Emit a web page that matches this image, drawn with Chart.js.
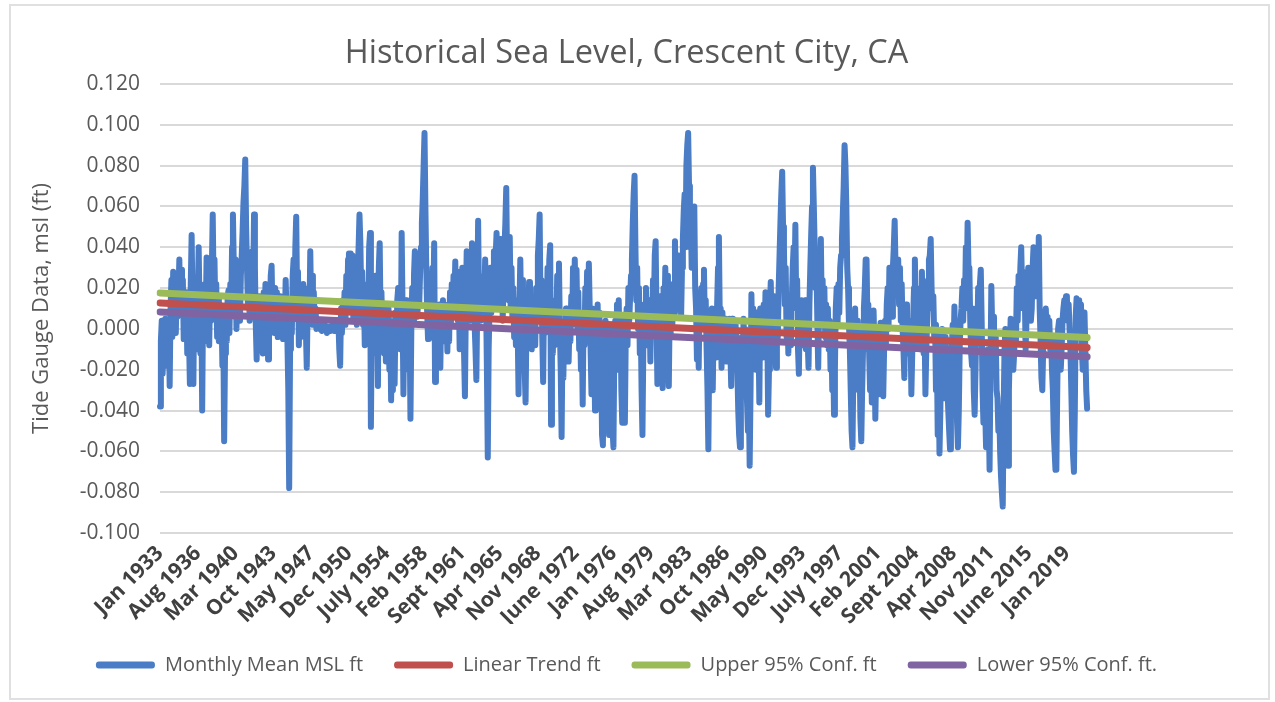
<!DOCTYPE html>
<html>
<head>
<meta charset="utf-8">
<title>Historical Sea Level, Crescent City, CA</title>
<script src="https://cdn.jsdelivr.net/npm/chart.js@4.4.1/dist/chart.umd.min.js"></script>
<style>
  html, body { margin: 0; padding: 0; background: #fff; }
  #frame { position: absolute; left: 9px; top: 4px; width: 1261px; height: 696px; border: 2px solid #e0e0e0; box-sizing: border-box; }
  #wrap { position: absolute; left: 0; top: 0; width: 1275px; height: 702px; }
</style>
</head>
<body>
<div id="frame"></div>
<div id="wrap"><canvas id="seaLevelChart" width="1275" height="702"></canvas></div>
<script>
const startYear = 1933;
const monthNames = ['Jan', 'Feb', 'Mar', 'Apr', 'May', 'June', 'July', 'Aug', 'Sept', 'Oct', 'Nov', 'Dec'];
const categoryCount = 1222; // sheet rows on the axis, blank ones after the last reading
const labelStep = 43;       // one axis label every 43 months

// monthly mean sea level, ft, one row per year starting Jan 1933
const monthlyMeanMSL = [
  -0.038, -0.006, 0.004, -0.022, 0.002, -0.012, 0.005, -0.018, 0.004, -0.010, 0.003, -0.028,
  0.010, 0.024, -0.004, 0.028, 0.004, 0.018, -0.002, 0.020, 0.006, 0.016, 0.034, 0.008,
  0.029, 0.010, 0.024, -0.005, 0.016, 0.002, 0.018, -0.012, 0.012, -0.004, -0.027, 0.022,
  0.046, 0.012, -0.027, 0.018, 0.002, 0.020, -0.010, 0.016, 0.040, 0.010, -0.012, 0.014,
  -0.040, 0.012, -0.006, 0.022, 0.004, 0.035, 0.012, 0.024, -0.008, 0.018, 0.004, 0.030,
  0.056, 0.020, 0.034, 0.008, 0.022, -0.004, 0.016, -0.006, 0.012, -0.002, 0.010, -0.018,
  0.004, -0.055, -0.012, 0.010, -0.006, 0.016, 0.019, -0.002, 0.022, 0.008, 0.040, 0.056,
  0.030, 0.006, 0.034, 0.000, 0.020, 0.008, 0.030, 0.004, 0.026, 0.036, 0.048, 0.062,
  0.070, 0.083, 0.050, 0.030, 0.012, 0.028, 0.004, 0.030, 0.010, 0.038, 0.020, 0.056,
  0.030, 0.002, -0.015, 0.012, -0.004, 0.016, -0.008, 0.015, 0.000, -0.012, 0.018, 0.004,
  // 1943
  0.022, -0.006, 0.012, -0.015, 0.016, 0.002, 0.026, 0.031, 0.006, 0.020, -0.002, 0.020,
  0.004, 0.018, -0.004, 0.014, 0.000, 0.016, -0.002, 0.010, -0.005, 0.014, 0.002, 0.024,
  0.008, -0.006, -0.030, -0.078, -0.010, 0.012, -0.002, 0.026, 0.034, 0.008, 0.040, 0.055,
  0.016, 0.028, -0.008, 0.014, 0.000, 0.020, 0.002, 0.022, -0.004, 0.012, 0.000, -0.019,
  0.010, 0.020, 0.004, 0.038, 0.010, 0.026, 0.002, 0.018, 0.004, 0.010, 0.000, 0.004,
  0.001, 0.000, 0.002, 0.001, -0.001, 0.000, 0.002, 0.003, 0.001, 0.000, -0.002, 0.000,
  0.001, 0.000, -0.001, 0.001, 0.002, 0.000, -0.001, 0.000, 0.001, 0.000, 0.002, 0.004,
  -0.010, -0.018, 0.010, -0.002, 0.014, 0.004, 0.018, 0.002, 0.026, 0.010, 0.034, 0.037,
  0.012, 0.037, 0.016, 0.036, 0.004, 0.028, 0.008, 0.022, 0.002, 0.030, 0.040, 0.056,
  0.042, 0.016, 0.028, 0.002, 0.020, -0.008, 0.014, -0.002, 0.022, 0.006, 0.040, 0.047,
  // 1953
  -0.048, 0.002, -0.012, 0.016, -0.006, 0.026, 0.004, 0.014, -0.028, 0.030, 0.042, 0.004,
  0.018, -0.004, 0.012, -0.012, 0.008, -0.016, 0.006, -0.010, 0.010, -0.020, 0.004, -0.035,
  -0.004, -0.030, 0.002, -0.027, 0.008, -0.010, 0.014, 0.020, -0.004, 0.012, -0.010, 0.047,
  0.010, -0.032, 0.006, -0.010, 0.014, -0.012, 0.008, -0.020, 0.004, -0.044, 0.000, 0.020,
  0.004, 0.026, 0.038, 0.010, 0.030, 0.006, 0.024, 0.012, 0.028, 0.040, 0.052, 0.064,
  0.080, 0.096, 0.060, 0.030, 0.008, -0.005, 0.020, 0.004, 0.024, 0.002, 0.030, 0.012,
  0.042, -0.026, 0.012, -0.004, 0.010, -0.008, 0.012, -0.019, 0.010, -0.004, 0.014, -0.006,
  0.008, -0.004, 0.010, -0.011, 0.012, -0.006, 0.018, 0.002, 0.022, 0.008, 0.026, 0.012,
  0.033, 0.008, 0.028, 0.004, 0.018, -0.010, 0.016, 0.002, 0.030, 0.006, -0.012, -0.033,
  0.010, 0.038, 0.012, 0.030, 0.004, 0.026, 0.036, 0.042, 0.010, 0.020, 0.002, -0.010,
  // 1963
  -0.025, 0.012, 0.053, 0.014, 0.026, 0.004, 0.020, 0.006, 0.026, 0.010, 0.034, 0.016,
  -0.020, -0.063, -0.010, 0.010, 0.030, 0.008, 0.030, 0.012, 0.038, 0.014, 0.036, 0.047,
  0.020, 0.040, 0.012, 0.044, 0.010, 0.032, 0.004, 0.028, 0.040, 0.052, 0.069, 0.030,
  0.040, 0.014, 0.045, 0.010, 0.030, 0.006, 0.020, -0.004, 0.012, -0.008, 0.014, 0.000,
  -0.032, 0.010, 0.034, 0.006, 0.024, -0.004, 0.008, -0.020, -0.036, 0.002, 0.018, 0.004,
  0.023, 0.000, 0.016, -0.010, 0.012, -0.004, 0.014, -0.008, 0.020, 0.004, 0.036, 0.044,
  0.056, 0.010, 0.024, -0.004, -0.026, 0.014, -0.002, 0.020, 0.004, 0.030, 0.008, 0.034,
  0.041, -0.047, 0.004, -0.012, 0.010, -0.008, 0.014, 0.002, 0.026, 0.004, 0.032, 0.000,
  -0.020, -0.053, -0.006, -0.024, 0.002, -0.012, 0.010, -0.016, 0.000, -0.016, 0.004, -0.006,
  0.016, 0.002, 0.030, 0.008, 0.034, 0.004, 0.029, 0.000, 0.018, -0.010, 0.004, -0.020,
  // 1973
  -0.002, -0.037, 0.006, -0.008, 0.020, 0.002, 0.028, 0.004, 0.032, 0.010, -0.010, -0.032,
  0.010, -0.018, 0.002, -0.040, 0.004, -0.012, 0.012, -0.014, 0.008, -0.024, -0.006, -0.052,
  -0.057, -0.010, -0.030, 0.004, -0.020, -0.040, 0.000, -0.052, -0.004, -0.016, 0.002, -0.050,
  -0.058, -0.010, 0.004, -0.020, 0.012, -0.006, 0.014, -0.014, 0.006, -0.030, -0.046, -0.008,
  -0.036, -0.046, -0.004, 0.010, -0.008, 0.020, 0.004, 0.016, 0.026, 0.034, 0.052, 0.066,
  0.075, 0.040, 0.014, 0.030, 0.000, 0.020, -0.012, 0.006, -0.030, -0.052, -0.008, 0.012,
  -0.006, 0.020, -0.008, 0.012, -0.004, 0.014, -0.016, 0.010, 0.000, 0.024, 0.010, 0.036,
  0.043, 0.006, -0.027, 0.012, -0.004, 0.016, -0.006, 0.010, -0.029, 0.020, 0.004, 0.030,
  0.006, 0.026, -0.010, -0.028, 0.010, -0.004, 0.016, 0.002, 0.022, 0.008, 0.043, 0.012,
  0.030, 0.012, 0.036, 0.010, 0.028, 0.006, 0.030, 0.044, 0.058, 0.066, 0.040, 0.080,
  // 1983
  0.090, 0.096, 0.070, 0.040, 0.060, 0.030, 0.060, 0.040, 0.060, 0.020, 0.010, -0.015,
  0.006, -0.019, 0.016, 0.000, 0.020, 0.004, 0.022, 0.029, 0.002, 0.014, -0.010, -0.030,
  -0.059, -0.012, 0.004, -0.010, 0.010, -0.030, 0.002, -0.012, 0.004, -0.014, 0.012, 0.030,
  0.045, 0.004, 0.010, -0.019, 0.008, -0.008, 0.004, -0.012, 0.005, -0.016, 0.004, -0.006,
  0.005, -0.010, -0.028, 0.005, -0.008, 0.004, -0.014, 0.002, -0.010, -0.020, -0.040, -0.052,
  -0.058, -0.020, -0.004, -0.030, 0.005, -0.012, 0.000, -0.024, -0.036, -0.050, -0.030, -0.067,
  -0.030, 0.017, -0.010, 0.010, -0.012, 0.004, -0.020, 0.008, -0.016, 0.002, -0.036, 0.010,
  -0.010, 0.004, -0.014, 0.012, -0.004, 0.018, -0.010, 0.002, -0.042, -0.020, 0.010, 0.023,
  0.000, 0.014, -0.008, 0.016, -0.006, -0.019, 0.006, -0.004, 0.020, 0.036, 0.052, 0.066,
  0.077, 0.050, 0.040, 0.012, 0.030, -0.004, 0.010, -0.012, 0.006, -0.008, 0.010, 0.014,
  // 1993
  0.030, 0.040, 0.020, 0.051, 0.010, 0.024, -0.010, -0.022, 0.010, -0.006, 0.014, -0.008,
  0.012, -0.004, 0.014, -0.010, 0.008, -0.006, -0.019, 0.012, 0.030, 0.046, 0.060, 0.079,
  0.060, 0.040, 0.020, 0.030, 0.004, -0.019, 0.010, 0.020, 0.044, 0.010, 0.024, 0.002,
  0.020, -0.004, 0.012, -0.008, 0.010, -0.010, 0.004, -0.020, -0.002, -0.030, -0.010, -0.042,
  -0.020, 0.010, 0.020, 0.002, 0.022, 0.008, 0.030, 0.036, 0.044, 0.056, 0.070, 0.090,
  0.080, 0.060, 0.030, 0.020, 0.002, -0.010, -0.030, -0.050, -0.058, -0.020, 0.000, 0.010,
  -0.010, -0.020, 0.004, -0.030, -0.012, -0.044, -0.055, -0.030, -0.010, 0.010, 0.020, 0.034,
  0.034, 0.004, 0.012, -0.012, -0.030, -0.006, -0.036, -0.020, 0.009, -0.010, -0.044, -0.020,
  0.000, -0.016, -0.032, -0.004, 0.003, -0.018, -0.006, -0.033, -0.010, 0.004, -0.008, 0.012,
  0.020, 0.000, 0.030, 0.010, 0.024, 0.006, 0.030, 0.040, 0.053, 0.030, 0.034, 0.020,
  // 2003
  0.034, 0.012, 0.030, 0.004, 0.022, 0.000, -0.010, -0.024, 0.004, 0.012, -0.006, -0.012,
  0.004, -0.010, 0.002, -0.032, -0.012, 0.004, 0.020, 0.034, 0.012, 0.020, -0.008, 0.010,
  0.014, -0.010, 0.020, 0.028, 0.004, -0.012, 0.000, -0.032, -0.010, 0.004, 0.024, 0.034,
  0.036, 0.044, 0.020, 0.010, 0.016, -0.004, 0.002, -0.030, -0.010, -0.052, -0.020, -0.061,
  -0.040, -0.010, 0.000, -0.012, -0.020, -0.034, -0.004, -0.020, -0.028, -0.040, -0.050, -0.059,
  -0.030, -0.010, 0.002, -0.014, 0.011, -0.010, -0.030, -0.046, -0.058, -0.040, -0.010, 0.004,
  0.010, 0.020, 0.004, 0.024, 0.010, 0.040, 0.020, 0.052, 0.030, 0.030, 0.004, -0.012,
  -0.018, 0.010, -0.030, -0.042, -0.020, 0.004, -0.006, 0.020, 0.000, 0.022, 0.029, 0.004,
  -0.030, -0.046, -0.020, -0.040, -0.058, -0.030, -0.010, -0.040, -0.069, -0.020, 0.021, 0.000,
  0.006, -0.010, -0.020, -0.004, -0.030, -0.034, -0.050, -0.040, -0.060, -0.072, -0.080, -0.087,
  // 2013
  -0.040, -0.010, 0.000, -0.030, -0.050, -0.067, -0.030, -0.010, 0.005, -0.010, 0.004, -0.020,
  -0.012, 0.002, -0.006, 0.020, 0.004, 0.026, 0.010, 0.030, 0.040, 0.020, 0.028, 0.010,
  0.020, -0.010, 0.004, 0.014, 0.030, 0.012, 0.028, 0.004, 0.010, 0.030, 0.040, 0.020,
  0.034, 0.016, 0.038, 0.020, 0.045, 0.010, -0.005, -0.024, -0.030, -0.010, 0.000, 0.006,
  0.010, -0.004, 0.006, -0.008, 0.004, -0.010, -0.004, -0.020, -0.030, -0.050, -0.060, -0.069,
  -0.069, -0.030, 0.000, 0.004, -0.010, -0.020, -0.010, 0.004, 0.010, 0.014, 0.012, 0.016,
  0.015, 0.004, 0.012, 0.000, -0.010, -0.030, -0.050, -0.062, -0.070, -0.040, 0.006, 0.015,
  0.012, 0.000, 0.014, -0.004, 0.012, -0.010, -0.020, -0.006, 0.008, -0.010, -0.030, -0.039
];

// straight lines: value at the first and at the last month
const linearTrend = [0.0127, -0.0091];
const upperConf = [0.0176, -0.0042];
const lowerConf = [0.0083, -0.0137];

const colors = {
  msl: '#4a7dc6',
  trend: '#c0504d',
  upper: '#9bbb59',
  lower: '#8064a2'
};

const labels = [];
for (let i = 0; i < categoryCount; i++) {
  labels.push(i < monthlyMeanMSL.length ? monthNames[i % 12] + ' ' + (startYear + Math.floor(i / 12)) : '');
}

function endpointSeries(ends) {
  const s = new Array(monthlyMeanMSL.length).fill(null);
  s[0] = ends[0];
  s[s.length - 1] = ends[1];
  return s;
}

function lineSet(label, data, color, width, order) {
  return {
    label: label,
    data: data,
    borderColor: color,
    backgroundColor: color,
    borderWidth: width,
    borderCapStyle: 'round',
    borderJoinStyle: 'round',
    pointRadius: 0,
    pointHoverRadius: 0,
    tension: 0,
    spanGaps: true,
    order: order
  };
}

const textGrey = '#595959';

new Chart(document.getElementById('seaLevelChart'), {
  type: 'line',
  data: {
    labels: labels,
    datasets: [
      lineSet('Monthly Mean MSL ft', monthlyMeanMSL, colors.msl, 6, 4),
      lineSet('Linear Trend ft', endpointSeries(linearTrend), colors.trend, 7, 3),
      lineSet('Upper 95% Conf. ft', endpointSeries(upperConf), colors.upper, 7, 2),
      lineSet('Lower 95% Conf. ft.', endpointSeries(lowerConf), colors.lower, 7, 1)
    ]
  },
  options: {
    responsive: false,
    animation: false,
    events: [],
    layout: { padding: { left: 20, right: 42, top: 5, bottom: 17 } },
    plugins: {
      title: {
        display: true,
        text: 'Historical Sea Level, Crescent City, CA',
        color: textGrey,
        font: { family: 'Open Sans', size: 32.5, weight: 'normal' },
        padding: { top: 29, bottom: 11 }
      },
      legend: {
        position: 'bottom',
        labels: {
          color: textGrey,
          font: { family: 'Open Sans', size: 20 },
          boxWidth: 59,
          boxHeight: 7,
          padding: 31,
          useBorderRadius: true,
          borderRadius: 3,
          sort: (a, b) => a.datasetIndex - b.datasetIndex,
          generateLabels(chart) {
            const items = Chart.defaults.plugins.legend.labels.generateLabels(chart);
            items.forEach(item => { item.lineWidth = 0; });
            return items;
          }
        }
      },
      tooltip: { enabled: false }
    },
    scales: {
      x: {
        type: 'category',
        grid: { display: false, drawTicks: false },
        border: { display: false },
        ticks: {
          autoSkip: false,
          minRotation: 45,
          maxRotation: 45,
          padding: 8,
          color: '#404040',
          font: { family: 'Open Sans', size: 21, weight: 'bold' },
          callback: (value, index) => (index % labelStep === 0 && labels[index]) ? labels[index] : null
        },
        afterFit: scale => { scale.height = 91; }
      },
      y: {
        min: -0.1,
        max: 0.12,
        grid: { color: '#d9d9d9', lineWidth: 2, drawTicks: false },
        border: { display: false },
        ticks: {
          stepSize: 0.02,
          padding: 20,
          color: textGrey,
          font: { family: 'Open Sans', size: 21 },
          callback: v => Math.abs(v) < 1e-9 ? '0.000' : v.toFixed(3)
        },
        title: {
          display: true,
          text: 'Tide Gauge Data, msl (ft)',
          color: textGrey,
          font: { family: 'Open Sans', size: 22, weight: 'normal' },
          padding: { top: 9, bottom: 0 }
        },
        afterFit: scale => { scale.width = 140; }
      }
    }
  }
});
</script>
</body>
</html>
